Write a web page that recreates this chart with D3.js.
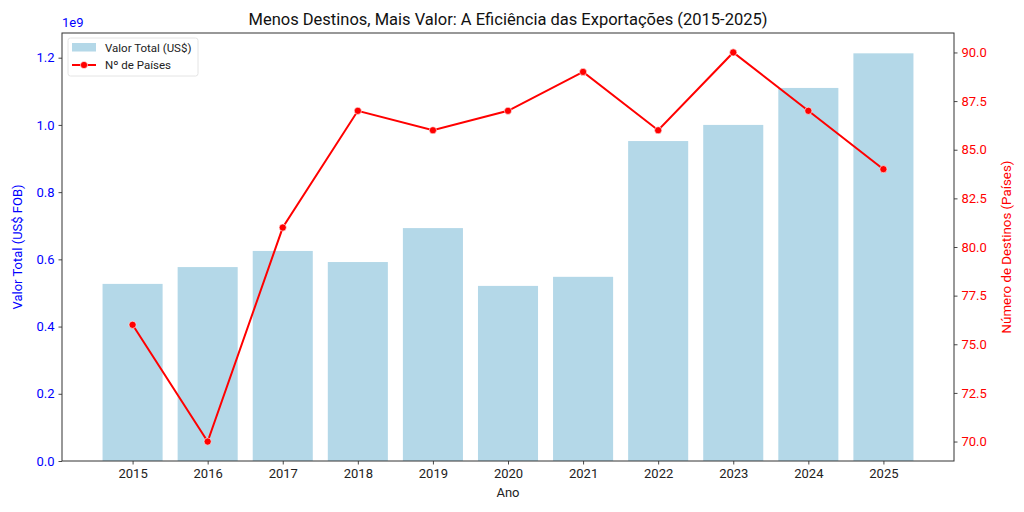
<!DOCTYPE html>
<html>
<head>
<meta charset="utf-8">
<script src="https://cdn.jsdelivr.net/npm/d3@7"></script>
<style>
  body { margin: 0; background: #fff; }
  svg { font-family: Roboto, "DejaVu Sans", sans-serif; }
</style>
</head>
<body>
<svg id="chart" width="1024" height="512"></svg>
<script>
// data
const years = ["2015", "2016", "2017", "2018", "2019", "2020", "2021", "2022", "2023", "2024", "2025"];
const totalValue = [0.527e9, 0.577e9, 0.625e9, 0.592e9, 0.693e9, 0.521e9, 0.548e9, 0.952e9, 1.0e9, 1.11e9, 1.213e9];
const countries = [76, 70, 81, 87, 86, 87, 89, 86, 90, 87, 84];
const leftTicks = [0, 0.2, 0.4, 0.6, 0.8, 1.0, 1.2];
const rightTicks = [70, 72.5, 75, 77.5, 80, 82.5, 85, 87.5, 90];

const svg = d3.select("#chart");
const m = { left: 62, right: 954, top: 33, bottom: 461 };

const x = d3.scaleLinear().domain([-0.94, years.length - 1 + 0.94]).range([m.left, m.right]);
const yL = d3.scaleLinear().domain([0, 1.2735]).range([m.bottom, m.top]);
const yR = d3.scaleLinear().domain([69, 91]).range([m.bottom, m.top]);
const bw = x(0.4) - x(-0.4);

// bars
svg.append("g").selectAll("rect")
    .data(totalValue)
    .join("rect")
    .attr("x", (d, i) => x(i) - bw / 2)
    .attr("width", bw)
    .attr("y", d => yL(d / 1e9))
    .attr("height", d => m.bottom - yL(d / 1e9))
    .attr("fill", "#b4d8e8");

// line
const line = d3.line().x((d, i) => x(i)).y(d => yR(d));
svg.append("path")
    .datum(countries)
    .attr("d", line)
    .attr("fill", "none")
    .attr("stroke", "#ff0000")
    .attr("stroke-width", 2);
svg.append("g").selectAll("circle")
    .data(countries)
    .join("circle")
    .attr("cx", (d, i) => x(i))
    .attr("cy", d => yR(d))
    .attr("r", 3.6)
    .attr("fill", "#ff0000")
    .attr("stroke", "#fff")
    .attr("stroke-width", 0.6);

// axes
const axisColor = "#333";
const xAxis = svg.append("g")
    .attr("transform", `translate(0,${m.bottom})`)
    .call(d3.axisBottom(x).tickValues(d3.range(years.length)).tickFormat(i => years[i]).tickSizeOuter(0).tickSize(3.5).tickPadding(4));
const leftAxis = svg.append("g")
    .attr("transform", `translate(${m.left},0)`)
    .call(d3.axisLeft(yL).tickValues(leftTicks).tickFormat(d3.format(".1f")).tickSizeOuter(0).tickSize(3.5).tickPadding(4));
const rightAxis = svg.append("g")
    .attr("transform", `translate(${m.right},0)`)
    .call(d3.axisRight(yR).tickValues(rightTicks).tickFormat(d3.format(".1f")).tickSizeOuter(0).tickSize(3.5).tickPadding(4));

[xAxis, leftAxis, rightAxis].forEach(g => {
    g.select(".domain").remove();
    g.selectAll(".tick line").attr("stroke", axisColor).attr("stroke-width", 0.9);
    g.selectAll(".tick text").attr("font-size", 13).attr("font-family", "Roboto, sans-serif");
});
xAxis.selectAll(".tick text").attr("fill", "#222");
leftAxis.selectAll(".tick text").attr("fill", "#0000ff");
rightAxis.selectAll(".tick text").attr("fill", "#ff0000");

// frame
svg.append("rect")
    .attr("x", m.left).attr("y", m.top)
    .attr("width", m.right - m.left).attr("height", m.bottom - m.top)
    .attr("fill", "none").attr("stroke", axisColor).attr("stroke-width", 1);

// texts
svg.append("text")
    .attr("x", (m.left + m.right) / 2).attr("y", 25)
    .attr("text-anchor", "middle").attr("font-size", 16.5).attr("fill", "#111")
    .text("Menos Destinos, Mais Valor: A Eficiência das Exportações (2015-2025)");
svg.append("text")
    .attr("x", m.left).attr("y", 27)
    .attr("font-size", 13).attr("fill", "#0000ff")
    .text("1e9");
svg.append("text")
    .attr("x", (m.left + m.right) / 2).attr("y", 497)
    .attr("text-anchor", "middle").attr("font-size", 13).attr("fill", "#222")
    .text("Ano");
svg.append("text")
    .attr("transform", `translate(22,${(m.top + m.bottom) / 2}) rotate(-90)`)
    .attr("text-anchor", "middle").attr("font-size", 13).attr("fill", "#0000ff")
    .text("Valor Total (US$ FOB)");
svg.append("text")
    .attr("transform", `translate(1011,${(m.top + m.bottom) / 2}) rotate(-90)`)
    .attr("text-anchor", "middle").attr("font-size", 13.3).attr("fill", "#ff0000")
    .text("Número de Destinos (Países)");

// legend
const lg = svg.append("g").attr("transform", "translate(68,38)");
lg.append("rect")
    .attr("width", 130).attr("height", 38).attr("rx", 2.5)
    .attr("fill", "#fff").attr("fill-opacity", 0.8)
    .attr("stroke", "#ddd").attr("stroke-width", 0.8);
lg.append("rect")
    .attr("x", 4).attr("y", 5).attr("width", 24).attr("height", 8.5)
    .attr("fill", "#b4d8e8");
lg.append("line")
    .attr("x1", 4).attr("x2", 28).attr("y1", 27).attr("y2", 27)
    .attr("stroke", "#ff0000").attr("stroke-width", 2);
lg.append("circle")
    .attr("cx", 16).attr("cy", 27).attr("r", 3.6)
    .attr("fill", "#ff0000").attr("stroke", "#fff").attr("stroke-width", 0.6);
lg.append("text")
    .attr("x", 37).attr("y", 13.5).attr("font-size", 11.5).attr("fill", "#222")
    .text("Valor Total (US$)");
lg.append("text")
    .attr("x", 37).attr("y", 31).attr("font-size", 11.5).attr("fill", "#222")
    .text("Nº de Países");
</script>
</body>
</html>
